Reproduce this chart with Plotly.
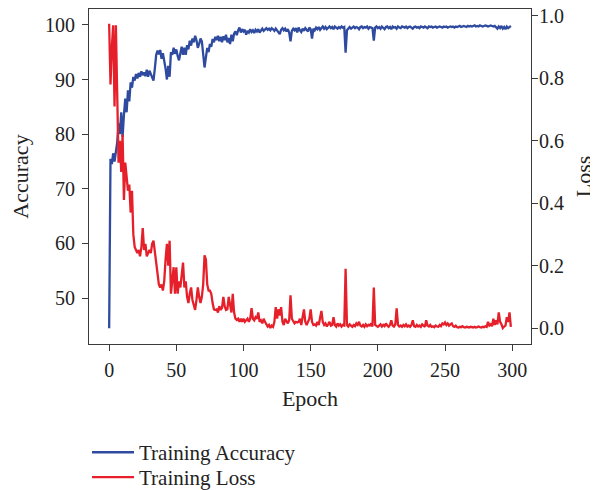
import plotly.graph_objects as go

epochs = list(range(300))

accuracy = [
    44.5, 75.5, 74.5, 76.5, 75.0, 76.8, 78.5, 82.0, 80.0, 84.0,
    79.5, 83.5, 86.5, 84.0, 88.0, 86.0, 89.5, 88.5, 90.5, 89.8,
    91.0, 90.2, 91.2, 90.5, 91.5, 90.8, 91.3, 90.6, 91.8, 90.5,
    91.6, 91.0, 90.2, 89.8, 92.0, 94.5, 95.3, 94.6, 95.4, 93.8,
    94.8, 93.6, 92.0, 90.0, 92.5, 90.5, 95.0, 94.5, 95.8, 94.7,
    95.5, 94.3, 93.5, 94.8, 96.0, 94.5, 95.8, 94.5, 96.3, 95.5,
    97.1, 96.2, 97.5, 96.8, 98.0, 97.2, 95.8, 96.5, 97.5, 97.0,
    95.0, 92.2, 94.0, 95.8, 95.0, 96.5, 96.0, 97.4, 96.8, 97.8,
    97.2, 98.0, 97.0, 97.8, 96.8, 97.9, 97.2, 98.2, 96.8, 97.6,
    96.5, 98.2, 97.0, 98.4, 98.8, 98.1, 99.0, 99.5, 98.6, 99.2,
    98.8, 99.1, 98.2, 98.9, 98.6, 99.2, 98.7, 99.0, 98.5, 99.1,
    98.8, 99.2, 98.6, 99.0, 99.3, 98.9, 99.2, 99.4, 99.1, 99.3,
    99.0, 99.4, 99.2, 98.9, 99.3, 99.0, 98.7, 98.3, 99.1, 99.4,
    99.0, 99.3, 98.8, 99.2, 98.6, 97.0, 98.9, 99.3, 99.0, 99.4,
    98.6, 99.5, 99.0, 98.7, 99.3, 98.9, 99.4, 99.1, 98.8, 99.5,
    99.2, 97.5, 99.3, 99.0, 99.5, 99.2, 99.6, 99.1, 99.5, 99.7,
    99.3, 99.6, 99.2, 99.5, 99.7, 99.4, 99.6, 99.2, 99.7, 99.5,
    99.3, 99.6, 99.4, 99.7, 99.5, 99.6, 94.9, 99.0, 99.4, 99.6,
    99.3, 99.5, 99.7, 99.4, 99.6, 99.5, 99.2, 99.6, 99.7, 99.4,
    99.6, 99.5, 99.7, 99.3, 99.6, 99.5, 99.4, 97.1, 99.5, 99.7,
    99.4, 99.6, 99.3, 99.7, 99.5, 99.2, 99.6, 99.7, 99.4, 99.6,
    99.2, 99.7, 99.5, 99.6, 99.3, 99.7, 99.5, 99.4, 99.7, 99.6,
    99.5, 99.7, 99.4, 99.6, 99.7, 99.5, 99.3, 99.6, 99.7, 99.5,
    99.6, 99.4, 99.7, 99.6, 99.5, 99.7, 99.6, 99.4, 99.7, 99.6,
    99.7, 99.5, 99.6, 99.7, 99.5, 99.6, 99.7, 99.6, 99.5, 99.7,
    99.6, 99.7, 99.5, 99.6, 99.7, 99.6, 99.7, 99.5, 99.7, 99.6,
    99.7, 99.8, 99.6, 99.7, 99.8, 99.7, 99.6, 99.8, 99.7, 99.8,
    99.7, 99.8, 99.9, 99.7, 99.8, 99.7, 99.9, 99.8, 99.7, 99.8,
    99.9, 99.8, 99.7, 99.8, 99.9, 99.8, 99.7, 99.8, 99.6, 99.3,
    99.7, 99.4, 99.8, 99.3, 99.6, 99.2, 99.7, 99.4, 99.6, 99.8,
]

loss = [
    0.975, 0.78, 0.90, 0.97, 0.71, 0.97, 0.75, 0.53, 0.60, 0.50,
    0.62, 0.41, 0.53, 0.47, 0.44, 0.46, 0.37, 0.44, 0.30, 0.26,
    0.25, 0.24, 0.25, 0.23, 0.26, 0.32, 0.25, 0.27, 0.23, 0.24,
    0.25, 0.24, 0.27, 0.28, 0.24, 0.22, 0.18, 0.14, 0.13, 0.14,
    0.12, 0.15, 0.22, 0.27, 0.20, 0.28, 0.11, 0.15, 0.195, 0.11,
    0.195, 0.11, 0.15, 0.13, 0.17, 0.21, 0.13, 0.15, 0.10, 0.08,
    0.11, 0.13, 0.09, 0.07, 0.058, 0.09, 0.13, 0.10, 0.08, 0.10,
    0.14, 0.233, 0.22, 0.14, 0.12, 0.12, 0.11, 0.08, 0.06, 0.058,
    0.06, 0.05, 0.07, 0.058, 0.065, 0.10, 0.07, 0.058, 0.06, 0.10,
    0.07, 0.05, 0.11, 0.05, 0.03, 0.026, 0.03, 0.02, 0.03, 0.02,
    0.03, 0.02, 0.025, 0.03, 0.02, 0.03, 0.064, 0.03, 0.025, 0.035,
    0.03, 0.05, 0.02, 0.025, 0.015, 0.03, 0.02, 0.01, 0.005, 0.01,
    0.0, 0.008, 0.004, 0.02, 0.067, 0.03, 0.06, 0.04, 0.067, 0.02,
    0.01, 0.03, 0.02, 0.015, 0.025, 0.105, 0.03, 0.02, 0.015, 0.02,
    0.018, 0.02, 0.03, 0.01, 0.03, 0.06, 0.02, 0.01, 0.02, 0.03,
    0.06, 0.02, 0.01, 0.012, 0.008, 0.02, 0.01, 0.03, 0.055, 0.02,
    0.01, 0.015, 0.005, 0.012, 0.02, 0.008, 0.01, 0.035, 0.01, 0.005,
    0.015, 0.008, 0.012, 0.005, 0.01, 0.008, 0.19, 0.01, 0.005, 0.012,
    0.008, 0.004, 0.01, 0.006, 0.015, 0.01, 0.02, 0.008, 0.005, 0.01,
    0.004, 0.012, 0.006, 0.01, 0.008, 0.015, 0.005, 0.13, 0.01, 0.006,
    0.004, 0.008, 0.012, 0.005, 0.01, 0.006, 0.015, 0.008, 0.004, 0.01,
    0.025, 0.008, 0.005, 0.012, 0.063, 0.01, 0.005, 0.008, 0.004, 0.01,
    0.006, 0.012, 0.005, 0.008, 0.004, 0.01, 0.025, 0.006, 0.004, 0.01,
    0.005, 0.008, 0.004, 0.012, 0.006, 0.004, 0.025, 0.008, 0.005, 0.01,
    0.004, 0.006, 0.003, 0.008, 0.005, 0.004, 0.01, 0.006, 0.015, 0.012,
    0.018, 0.01, 0.015, 0.008, 0.012, 0.015, 0.006, 0.004, 0.008, 0.003,
    0.002, 0.004, 0.003, 0.006, 0.003, 0.002, 0.004, 0.003, 0.002, 0.004,
    0.003, 0.002, 0.004, 0.002, 0.003, 0.005, 0.003, 0.002, 0.004, 0.003,
    0.006, 0.004, 0.02, 0.008, 0.012, 0.006, 0.03, 0.01, 0.025, 0.012,
    0.05, 0.02, 0.012, 0.0, 0.005, 0.008, 0.035, 0.02, 0.05, 0.004,
]

x_ticks = [0, 50, 100, 150, 200, 250, 300]
acc_ticks = [50, 60, 70, 80, 90, 100]
loss_ticks = [0.0, 0.2, 0.4, 0.6, 0.8, 1.0]

BLUE = "#2f4b9f"
RED = "#e5202a"
AXIS = "#3a3a3a"
TEXT = "#222222"
FONT = "Liberation Serif"

fig = go.Figure()
fig.add_trace(go.Scatter(
    x=epochs, y=accuracy, mode="lines", name="Training Accuracy",
    line=dict(color=BLUE, width=2.3), yaxis="y", legend="legend",
))
fig.add_trace(go.Scatter(
    x=epochs, y=loss, mode="lines", name="Training Loss",
    line=dict(color=RED, width=2.3), yaxis="y2", legend="legend2",
))

axis_common = dict(
    showline=True, linecolor=AXIS, linewidth=1.2,
    ticks="outside", ticklen=6, tickcolor=AXIS, tickwidth=1,
    showgrid=False, zeroline=False, automargin=False,
    ticklabeloverflow="allow",
    tickfont=dict(family=FONT, size=20, color=TEXT),
)

legend_common = dict(
    xanchor="left", yanchor="top", itemwidth=42,
    font=dict(family=FONT, size=21, color=TEXT),
    bgcolor="rgba(0,0,0,0)",
)

fig.update_layout(
    width=590, height=482,
    margin=dict(l=81, r=67, t=1, b=146, autoexpand=False),
    paper_bgcolor="white", plot_bgcolor="white",
    font=dict(family=FONT, size=20, color=TEXT),
    xaxis=dict(
        range=[-15, 314], tickvals=x_ticks, mirror=True, ticklabelstandoff=2,
        title=dict(text="Epoch", font=dict(family=FONT, size=22, color=TEXT), standoff=10),
        **axis_common,
    ),
    yaxis=dict(
        range=[41.6, 102.9], tickvals=acc_ticks, ticklabelstandoff=3,
        title=dict(text="Accuracy", font=dict(family=FONT, size=22, color=TEXT), standoff=12),
        **axis_common,
    ),
    yaxis2=dict(
        range=[-0.051, 1.022], tickvals=loss_ticks, tickformat=".1f",
        overlaying="y", side="right", ticklabelstandoff=-3,
        title=dict(text="Loss", font=dict(family=FONT, size=22, color=TEXT), standoff=12),
        **axis_common,
    ),
    showlegend=True,
    legend=dict(x=-0.0045, y=-0.263, **legend_common),
    legend2=dict(x=-0.0045, y=-0.337, **legend_common),
)

fig.write_html("out.html")
